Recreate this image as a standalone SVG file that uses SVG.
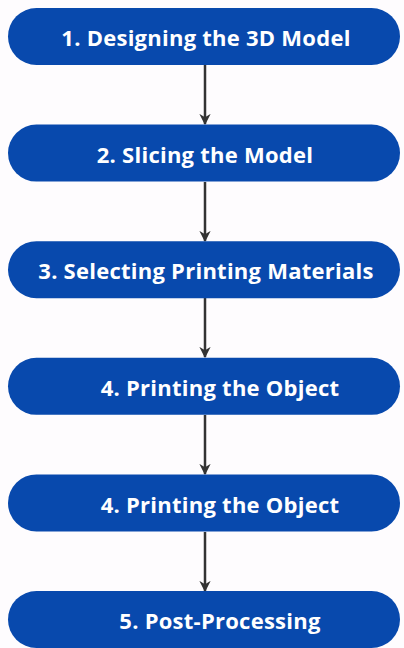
<svg xmlns="http://www.w3.org/2000/svg" width="404" height="648" viewBox="0 0 404 648">
<style>
.node rect{fill:#0849ad;}
.node text{fill:#ffffff;font-family:"Open Sans","Liberation Sans",sans-serif;font-weight:700;font-size:22px;letter-spacing:0.25px;text-anchor:middle;dominant-baseline:central;}
.conn line{stroke:#333333;stroke-width:2.5;}
</style>
<defs>
<marker id="ah" viewBox="0 0 10 10" refX="9" refY="5" markerWidth="4.5" markerHeight="4.5" orient="auto" markerUnits="strokeWidth">
<path d="M0,0 L10,5 L0,10 L3,5 Z" fill="#333333"/>
</marker>
</defs>
<rect width="404" height="648" fill="#fefcfe"/>
<g id="connectors" class="conn">
<line x1="205" y1="65" x2="205" y2="124" marker-end="url(#ah)"/>
<line x1="205" y1="182" x2="205" y2="241" marker-end="url(#ah)"/>
<line x1="205" y1="298" x2="205" y2="357" marker-end="url(#ah)"/>
<line x1="205" y1="415" x2="205" y2="474" marker-end="url(#ah)"/>
<line x1="205" y1="532" x2="205" y2="591" marker-end="url(#ah)"/>
</g>
<g id="n1" class="node"><rect x="8" y="8" width="392" height="57" rx="28.5"/><text x="206" y="37">1. Designing the 3D Model</text></g>
<g id="n2" class="node"><rect x="8" y="124.6" width="392" height="57" rx="28.5"/><text x="205" y="154">2. Slicing the Model</text></g>
<g id="n3" class="node"><rect x="8" y="241.2" width="392" height="57" rx="28.5"/><text x="206" y="270">3. Selecting Printing Materials</text></g>
<g id="n4" class="node"><rect x="8" y="357.8" width="392" height="57" rx="28.5"/><text x="220" y="387">4. Printing the Object</text></g>
<g id="n5" class="node"><rect x="8" y="474.4" width="392" height="57" rx="28.5"/><text x="220" y="504">4. Printing the Object</text></g>
<g id="n6" class="node"><rect x="8" y="591" width="392" height="57" rx="28.5"/><text x="220" y="620">5. Post-Processing</text></g>
</svg>
